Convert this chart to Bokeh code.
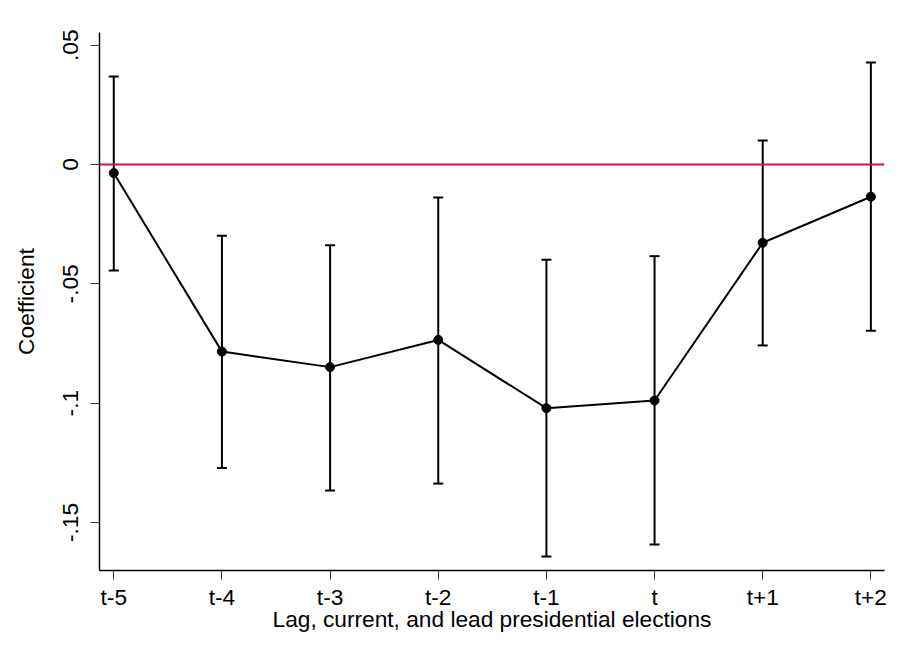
from bokeh.plotting import figure
from bokeh.models import ColumnDataSource, Whisker, TeeHead, Span, FixedTicker, Range1d
from bokeh.embed import file_html
from bokeh.resources import INLINE

# Data
labels = ["t-5", "t-4", "t-3", "t-2", "t-1", "t", "t+1", "t+2"]
coef = [-0.0036, -0.0784, -0.0849, -0.0735, -0.1021, -0.0989, -0.0328, -0.0135]
ci_upper = [0.0369, -0.0299, -0.0338, -0.0138, -0.0399, -0.0384, 0.0101, 0.0427]
ci_lower = [-0.0444, -0.1272, -0.1366, -0.1337, -0.1642, -0.1592, -0.0758, -0.0697]
y_ticks = [-0.15, -0.1, -0.05, 0, 0.05]
y_tick_labels = ["-.15", "-.1", "-.05", "0", ".05"]

xs = list(range(len(labels)))
src = ColumnDataSource(dict(x=xs, y=coef, lo=ci_lower, hi=ci_upper))

FONT = "Liberation Sans"
FS = "22.7px"

p = figure(width=895, height=652, output_backend="svg", toolbar_location=None,
           x_range=Range1d(-0.132, 7.126), y_range=Range1d(-0.17011, 0.0553),
           min_border_left=99, min_border_right=11, min_border_top=32, min_border_bottom=82)
p.background_fill_color = "white"
p.border_fill_color = "white"
p.outline_line_color = None
p.xgrid.visible = False
p.ygrid.visible = False

# zero reference line
p.add_layout(Span(location=0, dimension="width", line_color="#d01050", line_width=2))

# error bars
w = Whisker(source=src, base="x", upper="hi", lower="lo", line_color="black", line_width=2,
            upper_head=TeeHead(size=10, line_width=2, line_color="black"),
            lower_head=TeeHead(size=10, line_width=2, line_color="black"))
p.add_layout(w)

p.line("x", "y", source=src, line_color="black", line_width=2)
p.scatter("x", "y", source=src, size=9, color="black")

# axes
p.xaxis.ticker = FixedTicker(ticks=xs)
p.xaxis.major_label_overrides = {i: l for i, l in zip(xs, labels)}
p.yaxis.ticker = FixedTicker(ticks=y_ticks)
p.yaxis.major_label_overrides = {t: l for t, l in zip(y_ticks, y_tick_labels)}
p.yaxis.major_label_orientation = "vertical"

for ax in (p.xaxis, p.yaxis):
    ax.axis_line_color = "black"
    ax.axis_line_width = 1.5
    ax.major_tick_line_color = "#333333"
    ax.major_tick_line_width = 1
    ax.major_tick_out = 9
    ax.major_tick_in = 0
    ax.minor_tick_line_color = None
    ax.major_label_text_font = FONT
    ax.major_label_text_font_size = FS
    ax.major_label_text_color = "black"
    ax.axis_label_text_font = FONT
    ax.axis_label_text_font_size = FS
    ax.axis_label_text_font_style = "normal"
    ax.axis_label_text_color = "black"

p.xaxis.axis_label = "Lag, current, and lead presidential elections"
p.yaxis.axis_label = "Coefficient"
p.xaxis.major_label_standoff = 4
p.xaxis.axis_label_standoff = -7
p.yaxis.major_label_standoff = 12
p.yaxis.axis_label_standoff = 22

open("out.html", "w").write(file_html(p, INLINE))
